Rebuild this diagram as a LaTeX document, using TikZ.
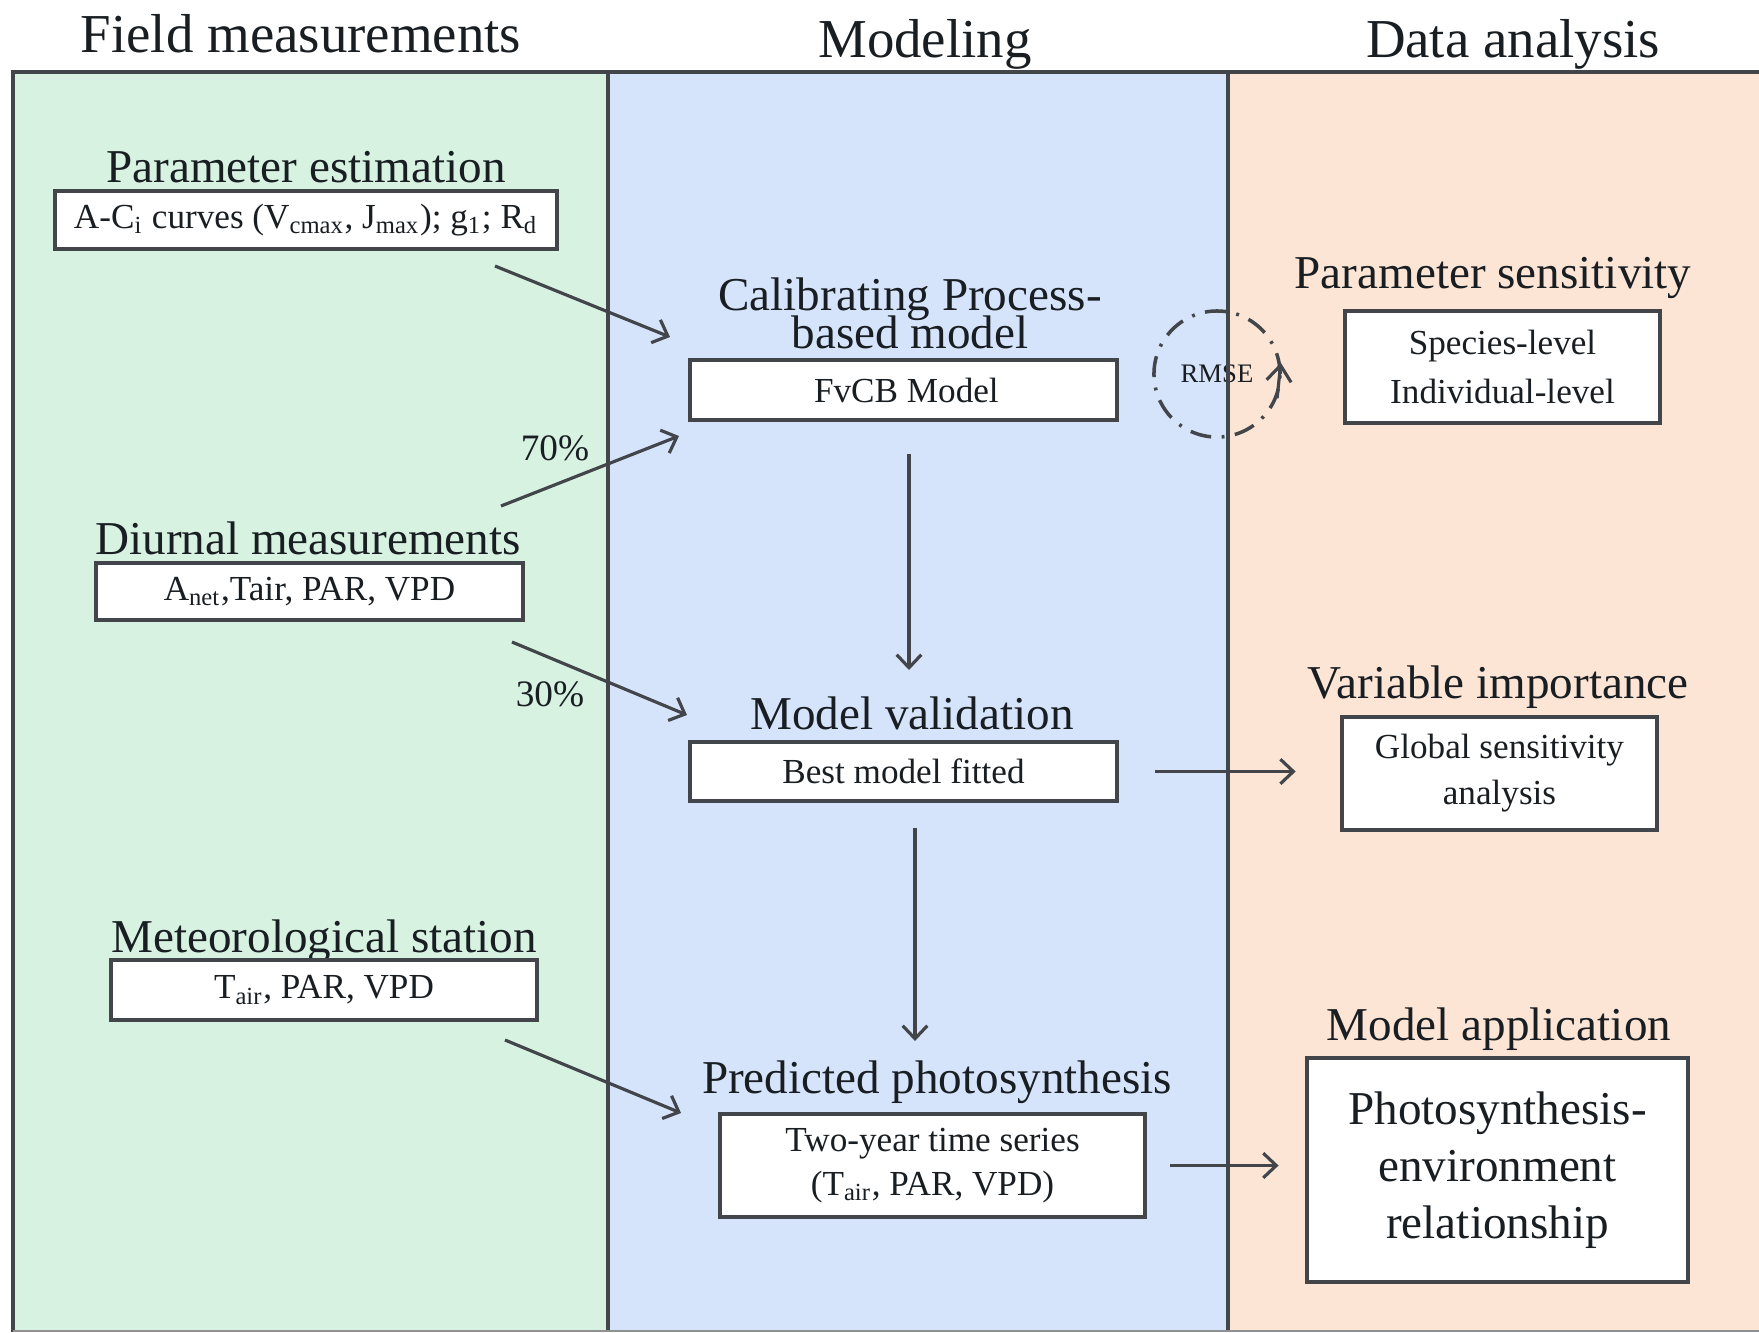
\documentclass[tikz,border=0pt]{standalone}
\usepackage{fontspec}
\setmainfont{Liberation Serif}
\usetikzlibrary{arrows.meta}

\definecolor{fieldbg}{RGB}{215,242,225}
\definecolor{modelbg}{RGB}{213,227,251}
\definecolor{databg}{RGB}{253,229,213}
\definecolor{edge}{RGB}{66,70,74}
\definecolor{ink}{RGB}{25,30,35}

% titles are set with tight line spacing
\newcommand{\ttlfont}{\fontsize{13.4}{10.8}\selectfont\setlength{\lineskiplimit}{-20pt}}

\begin{document}
\begin{tikzpicture}[x=0.01cm, y=-0.01cm, >={Straight Barb[length=3.7pt,width=7pt]}, text=ink,
    hd/.style={font=\fontsize{15.6}{18}\selectfont, anchor=base},
    ttl/.style={font=\ttlfont, align=center},
    box/.style={draw=edge, line width=1.3pt, fill=white, inner sep=0pt, align=center, font=\fontsize{10}{13.5}\selectfont},
    pct/.style={font=\fontsize{10.6}{12}\selectfont},
    link/.style={->, line width=0.9pt, draw=edge}]
    \useasboundingbox (0,0) rectangle (1759,1332);

    % the three columns
    \fill[fieldbg] (13,72) rectangle (608,1332);
    \fill[modelbg] (608,72) rectangle (1228,1332);
    \fill[databg] (1228,72) rectangle (1759,1332);

    \node[circle, draw=edge, line width=1pt, dash pattern=on 6pt off 3pt on 0.8pt off 3pt,
          minimum size=1.26cm, inner sep=0pt, font=\fontsize{7.6}{9}\selectfont] (rmse) at (1217,374) {RMSE};
    \draw[link, -{Straight Barb[length=4.5pt,width=7pt]}] (rmse.-22) -- (rmse.10);

    \draw[edge, line width=1.2pt] (13,1332) -- (13,72) -- (1759,72);
    \draw[edge, line width=1.2pt] (608,72) -- (608,1332);
    \draw[edge, line width=1.2pt] (1228,72) -- (1228,1332);
    \draw[edge!60, line width=0.6pt] (13,1331) -- (1759,1331);

    \node[hd] (hfield) at (301,52) {Field measurements};
    \node[hd] (hmodel) at (925,57) {Modeling};
    \node[hd] (hdata) at (1513,57) {Data analysis};

    % field measurements
    \node[ttl, anchor=base] (pe) at (306,182) {Parameter estimation};
    \node[box, minimum width=5.02cm, minimum height=0.58cm] (est) at (306,220)
        {A-C\textsubscript{i} curves (V\textsubscript{cmax}, J\textsubscript{max}); g\textsubscript{1}; R\textsubscript{d}};
    \node[ttl, anchor=base] (dm) at (308,554) {Diurnal measurements};
    \node[box, minimum width=4.27cm, minimum height=0.57cm] (diu) at (309.5,591.5) {A\textsubscript{net},Tair, PAR, VPD};
    \node[ttl, anchor=base] (ms) at (324,952) {Meteorological station};
    \node[box, minimum width=4.26cm, minimum height=0.6cm] (met) at (324,990) {T\textsubscript{air}, PAR, VPD};

    % modeling
    \node[ttl] (cal) at (910,313) {Calibrating Process-\\based model};
    \node[box, minimum width=4.27cm, minimum height=0.6cm] (fvcb) at (903.5,390) {\,FvCB Model};
    \node[ttl, anchor=base] (mv) at (912,729) {Model validation};
    \node[box, minimum width=4.27cm, minimum height=0.59cm] (val) at (903.5,771.5) {Best model fitted};
    \node[ttl, anchor=base] (pp) at (937,1093) {Predicted photosynthesis};
    \node[box, minimum width=4.25cm, minimum height=1.03cm, font=\fontsize{10}{12.5}\selectfont] (pred) at (932.5,1165.5)
        {Two-year time series\\(T\textsubscript{air}, PAR, VPD)};

    % data analysis
    \node[ttl, anchor=base] (ps) at (1493,288) {Parameter sensitivity};
    \node[box, minimum width=3.15cm, minimum height=1.12cm, font=\fontsize{10}{13.7}\selectfont] (sens) at (1502.5,367)
        {Species-level\\Individual-level};
    \node[ttl, anchor=base] (vi) at (1498,698) {Variable importance};
    \node[box, minimum width=3.15cm, minimum height=1.13cm, font=\fontsize{10}{13.1}\selectfont] (imp) at (1499.5,773.5)
        {Global sensitivity\\analysis};
    \node[ttl, anchor=base] (ma) at (1499,1040) {Model application};
    \node[box, minimum width=3.81cm, minimum height=2.24cm, font=\fontsize{13.4}{16.2}\selectfont] (app) at (1497.5,1170)
        {Photosynthesis-\\environment\\relationship};

    \node[pct] (p70) at (555,448) {70\%};
    \node[pct] (p30) at (550,694) {30\%};

    % arrow ends
    \coordinate (e1) at (495,266);
    \coordinate (c1) at (670,337);
    \coordinate (d1) at (501,506);
    \coordinate (c2) at (679,436);
    \coordinate (d2) at (512,642);
    \coordinate (v1) at (687,715);
    \coordinate (m1) at (505,1040);
    \coordinate (p1) at (681,1113);
    \coordinate (f1) at (909,454);
    \coordinate (f2) at (909,670);
    \coordinate (b1) at (915,828);
    \coordinate (b2) at (915,1041);

    \draw[link] (e1) -- (c1);
    \draw[link] (d1) -- (c2);
    \draw[link] (d2) -- (v1);
    \draw[link] (m1) -- (p1);
    \draw[link] (f1) -- (f2);
    \draw[link] (b1) -- (b2);
    \draw[link, shorten <=10.2pt, shorten >=12.5pt] (val.east) -- (val.east -| imp.west);
    \draw[link, shorten <=6.5pt, shorten >=7.4pt] (pred.east) -- (pred.east -| app.west);
\end{tikzpicture}
\end{document}
